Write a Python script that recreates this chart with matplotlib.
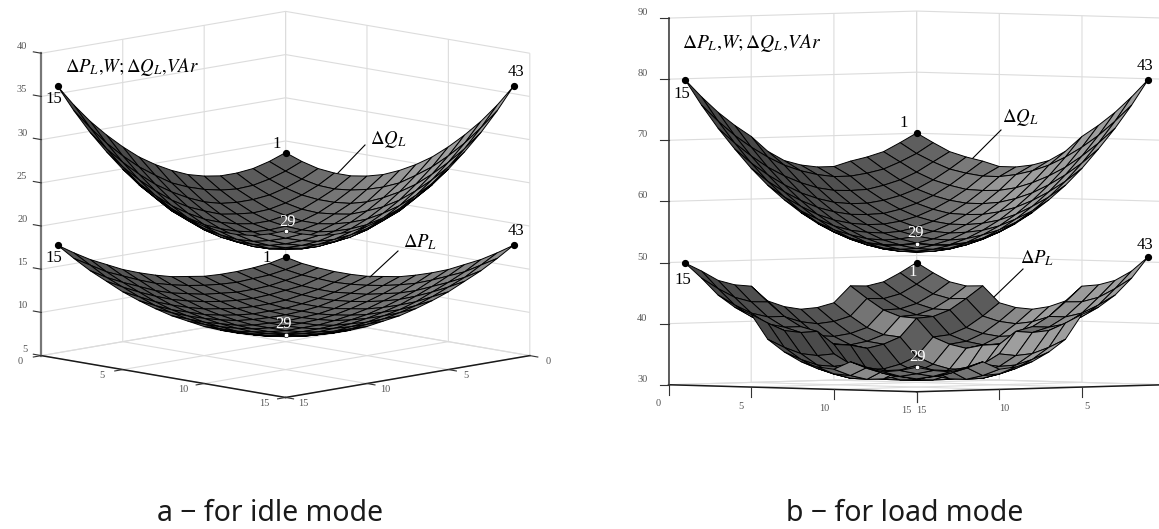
import numpy as np
import matplotlib
matplotlib.use('Agg')
import matplotlib.pyplot as plt
from mpl_toolkits.mplot3d import proj3d

plt.rcParams['font.family'] = ['Liberation Serif', 'DejaVu Serif']
plt.rcParams['mathtext.fontset'] = 'stix'

# node numbers 1..15 along each side of the grid
nodes = [1, 2, 3, 4, 5, 6, 7, 8, 9, 10, 11, 12, 13, 14, 15]
xy_ticks = [0, 5, 10, 15]
z_ticks_a = [5, 10, 15, 20, 25, 30, 35, 40]
z_ticks_b = [30, 40, 50, 60, 70, 80, 90]

# idle mode, heights (estimated where hidden)
q_idle = [
    [24.3, 23.6, 23.1, 22.9, 22.9, 23.2, 23.7, 24.5, 25.5, 26.7, 28.2, 29.9, 31.8, 34.0, 36.5],
    [23.6, 22.8, 22.2, 21.8, 21.7, 21.9, 22.3, 22.9, 23.7, 24.9, 26.2, 27.8, 29.6, 31.7, 34.0],
    [23.1, 22.2, 21.5, 21.0, 20.8, 20.8, 21.0, 21.5, 22.3, 23.3, 24.5, 26.0, 27.7, 29.6, 31.8],
    [22.9, 21.8, 21.0, 20.4, 20.0, 19.9, 20.1, 20.4, 21.1, 21.9, 23.0, 24.4, 26.0, 27.8, 29.9],
    [22.9, 21.7, 20.8, 20.0, 19.6, 19.3, 19.3, 19.6, 20.1, 20.8, 21.8, 23.0, 24.5, 26.2, 28.2],
    [23.2, 21.9, 20.8, 19.9, 19.3, 19.0, 18.9, 19.0, 19.4, 20.0, 20.8, 21.9, 23.3, 24.9, 26.7],
    [23.7, 22.3, 21.0, 20.1, 19.3, 18.9, 18.6, 18.6, 18.9, 19.4, 20.1, 21.1, 22.3, 23.7, 25.5],
    [24.5, 22.9, 21.5, 20.4, 19.6, 19.0, 18.6, 18.5, 18.6, 19.0, 19.6, 20.4, 21.5, 22.9, 24.5],
    [25.5, 23.7, 22.3, 21.1, 20.1, 19.4, 18.9, 18.6, 18.6, 18.9, 19.3, 20.1, 21.0, 22.3, 23.7],
    [26.7, 24.9, 23.3, 21.9, 20.8, 20.0, 19.4, 19.0, 18.9, 19.0, 19.3, 19.9, 20.8, 21.9, 23.2],
    [28.2, 26.2, 24.5, 23.0, 21.8, 20.8, 20.1, 19.6, 19.3, 19.3, 19.6, 20.0, 20.8, 21.7, 22.9],
    [29.9, 27.8, 26.0, 24.4, 23.0, 21.9, 21.1, 20.4, 20.1, 19.9, 20.0, 20.4, 21.0, 21.8, 22.9],
    [31.8, 29.6, 27.7, 26.0, 24.5, 23.3, 22.3, 21.5, 21.0, 20.8, 20.8, 21.0, 21.5, 22.2, 23.1],
    [34.0, 31.7, 29.6, 27.8, 26.2, 24.9, 23.7, 22.9, 22.3, 21.9, 21.7, 21.8, 22.2, 22.8, 23.6],
    [36.5, 34.0, 31.8, 29.9, 28.2, 26.7, 25.5, 24.5, 23.7, 23.2, 22.9, 22.9, 23.1, 23.6, 24.3],
]
p_idle = [
    [12.2, 11.8, 11.6, 11.5, 11.5, 11.6, 11.9, 12.2, 12.7, 13.3, 14.0, 14.9, 15.8, 16.9, 18.1],
    [11.8, 11.4, 11.1, 11.0, 10.9, 11.0, 11.2, 11.5, 11.9, 12.4, 13.1, 13.9, 14.7, 15.8, 16.9],
    [11.6, 11.1, 10.8, 10.5, 10.4, 10.4, 10.6, 10.8, 11.2, 11.6, 12.2, 13.0, 13.8, 14.7, 15.8],
    [11.5, 11.0, 10.5, 10.3, 10.1, 10.0, 10.1, 10.3, 10.6, 11.0, 11.5, 12.2, 13.0, 13.9, 14.9],
    [11.5, 10.9, 10.4, 10.1, 9.8, 9.7, 9.7, 9.8, 10.1, 10.4, 10.9, 11.5, 12.2, 13.1, 14.0],
    [11.6, 11.0, 10.4, 10.0, 9.7, 9.5, 9.5, 9.5, 9.7, 10.0, 10.4, 11.0, 11.6, 12.4, 13.3],
    [11.9, 11.2, 10.6, 10.1, 9.7, 9.5, 9.4, 9.4, 9.5, 9.7, 10.1, 10.6, 11.2, 11.9, 12.7],
    [12.2, 11.5, 10.8, 10.3, 9.8, 9.5, 9.4, 9.3, 9.4, 9.5, 9.8, 10.3, 10.8, 11.5, 12.2],
    [12.7, 11.9, 11.2, 10.6, 10.1, 9.7, 9.5, 9.4, 9.4, 9.5, 9.7, 10.1, 10.6, 11.2, 11.9],
    [13.3, 12.4, 11.6, 11.0, 10.4, 10.0, 9.7, 9.5, 9.5, 9.5, 9.7, 10.0, 10.4, 11.0, 11.6],
    [14.0, 13.1, 12.2, 11.5, 10.9, 10.4, 10.1, 9.8, 9.7, 9.7, 9.8, 10.1, 10.4, 10.9, 11.5],
    [14.9, 13.9, 13.0, 12.2, 11.5, 11.0, 10.6, 10.3, 10.1, 10.0, 10.1, 10.3, 10.5, 11.0, 11.5],
    [15.8, 14.7, 13.8, 13.0, 12.2, 11.6, 11.2, 10.8, 10.6, 10.4, 10.4, 10.5, 10.8, 11.1, 11.6],
    [16.9, 15.8, 14.7, 13.9, 13.1, 12.4, 11.9, 11.5, 11.2, 11.0, 10.9, 11.0, 11.1, 11.4, 11.8],
    [18.1, 16.9, 15.8, 14.9, 14.0, 13.3, 12.7, 12.2, 11.9, 11.6, 11.5, 11.5, 11.6, 11.8, 12.2],
]

# load mode
q_load = [
    [70.2, 68.7, 67.3, 66.5, 65.9, 65.1, 65.1, 65.5, 66.3, 67.9, 70.4, 72.3, 74.5, 77.1, 80.0],
    [68.7, 67.0, 65.7, 64.6, 64.0, 63.6, 63.6, 64.0, 64.7, 65.7, 67.1, 68.8, 70.8, 73.2, 75.9],
    [67.3, 65.7, 64.1, 62.9, 62.1, 61.5, 61.4, 61.5, 62.0, 62.9, 64.1, 65.6, 67.5, 69.7, 72.2],
    [66.5, 64.6, 62.9, 61.5, 60.5, 59.8, 59.4, 59.4, 59.7, 60.4, 61.4, 62.8, 64.5, 66.5, 68.9],
    [65.9, 64.0, 62.1, 60.5, 59.3, 58.4, 57.8, 57.7, 57.8, 58.3, 59.1, 60.3, 61.8, 63.6, 65.8],
    [65.1, 63.6, 61.5, 59.8, 58.4, 57.3, 56.6, 56.2, 56.2, 56.5, 57.1, 58.1, 59.5, 61.1, 63.1],
    [65.1, 63.6, 61.4, 59.4, 57.8, 56.6, 55.7, 55.1, 54.9, 55.1, 55.5, 56.3, 57.5, 58.9, 60.8],
    [65.5, 64.0, 61.5, 59.4, 57.7, 56.2, 55.1, 54.4, 54.0, 53.9, 54.2, 54.9, 55.8, 57.1, 58.8],
    [66.3, 64.7, 62.0, 59.7, 57.8, 56.2, 54.9, 54.0, 53.4, 53.2, 53.3, 53.7, 54.5, 55.6, 57.1],
    [67.9, 65.7, 62.9, 60.4, 58.3, 56.5, 55.1, 53.9, 53.2, 52.8, 52.7, 52.9, 53.5, 54.5, 55.8],
    [70.4, 67.1, 64.1, 61.4, 59.1, 57.1, 55.5, 54.2, 53.3, 52.7, 52.4, 52.5, 52.9, 53.7, 54.8],
    [72.3, 68.8, 65.6, 62.8, 60.3, 58.1, 56.3, 54.9, 53.7, 52.9, 52.5, 52.4, 52.6, 53.2, 54.1],
    [74.5, 70.8, 67.5, 64.5, 61.8, 59.5, 57.5, 55.8, 54.5, 53.5, 52.9, 52.6, 52.7, 53.1, 53.8],
    [77.1, 73.2, 69.7, 66.5, 63.6, 61.1, 58.9, 57.1, 55.6, 54.5, 53.7, 53.2, 53.1, 53.3, 53.9],
    [80.0, 75.9, 72.2, 68.9, 65.8, 63.1, 60.8, 58.8, 57.1, 55.8, 54.8, 54.1, 53.8, 53.9, 54.2],
]
p_load = [
    [49.0, 47.4, 46.0, 45.4, 45.5, 42.8, 42.1, 41.9, 42.4, 43.4, 45.9, 46.2, 47.0, 48.6, 50.0],
    [47.4, 45.6, 44.1, 43.4, 43.5, 40.7, 39.9, 39.6, 40.0, 40.9, 43.4, 43.5, 44.3, 45.8, 47.6],
    [46.0, 44.1, 42.6, 41.8, 41.7, 38.9, 38.0, 37.6, 37.8, 38.7, 41.1, 41.1, 41.8, 43.2, 44.9],
    [45.4, 43.4, 41.8, 40.9, 40.7, 37.8, 36.8, 36.3, 36.5, 37.2, 39.5, 39.5, 40.1, 41.4, 43.0],
    [45.5, 43.5, 41.7, 40.7, 40.5, 37.5, 36.4, 35.8, 36.4, 36.6, 38.8, 38.7, 39.1, 40.4, 41.9],
    [42.8, 40.7, 38.9, 37.8, 37.5, 34.4, 33.2, 32.5, 32.5, 33.1, 35.2, 35.0, 35.4, 36.5, 37.9],
    [42.1, 39.9, 38.0, 36.8, 36.4, 33.2, 32.0, 31.2, 31.1, 31.5, 33.6, 33.3, 33.6, 34.6, 35.9],
    [41.9, 39.6, 37.6, 36.3, 35.8, 32.5, 31.2, 31.0, 31.0, 31.1, 32.4, 32.5, 32.2, 33.2, 34.4],
    [42.4, 40.0, 37.8, 36.5, 36.4, 32.5, 31.1, 31.0, 31.0, 31.1, 32.0, 31.5, 31.6, 32.4, 33.6],
    [43.4, 40.9, 38.7, 37.2, 36.6, 33.1, 31.5, 31.1, 31.1, 31.2, 32.0, 31.5, 31.5, 32.2, 33.3],
    [45.9, 43.4, 41.1, 39.5, 38.8, 35.2, 33.6, 32.4, 32.0, 32.0, 33.7, 33.0, 33.0, 33.6, 34.6],
    [46.2, 43.5, 41.1, 39.5, 38.7, 35.0, 33.3, 32.5, 31.5, 31.5, 33.0, 32.3, 32.1, 32.7, 33.6],
    [47.0, 44.3, 41.8, 40.1, 39.1, 35.4, 33.6, 32.2, 31.6, 31.5, 33.0, 32.1, 31.8, 32.3, 33.1],
    [48.6, 45.8, 43.2, 41.4, 40.4, 36.5, 34.6, 33.2, 32.4, 32.2, 33.6, 32.7, 32.3, 32.8, 33.4],
    [51.0, 47.6, 44.9, 43.0, 41.9, 37.9, 35.9, 34.4, 33.6, 33.3, 34.6, 33.6, 33.1, 33.4, 34.0],
]

W, H = 1159, 529
fig = plt.figure(figsize=(W/100, H/100), dpi=100, facecolor='white')

# overlay in pixel coordinates for ticks and labels
ov = fig.add_axes([0, 0, 1, 1], zorder=10)
ov.set_xlim(0, W)
ov.set_ylim(H, 0)
ov.axis('off')


def cell_grays(Z):
    # brighter where a cell faces screen left, like the light in the original
    dzdx = (Z[:, 1:]-Z[:, :-1])[:-1, :]/2 + (Z[:, 1:]-Z[:, :-1])[1:, :]/2
    dzdy = (Z[1:, :]-Z[:-1, :])[:, :-1]/2 + (Z[1:, :]-Z[:-1, :])[:, 1:]/2
    t = (dzdy-dzdx)/np.sqrt(2)
    d = (dzdx+dzdy)/np.sqrt(2)
    g = 0.37 + np.where(t > 0, 0.12*t, 0.03*t) + 0.07*np.clip(d, 0, None)
    g = np.clip(g, 0.28, 0.62)
    return np.dstack([g, g, g, np.ones_like(g)])


def panel(left, top, size, elev, zlim, zticks, Zs, h, zcol, zlw):
    ax = fig.add_axes([left/W, 1-(top+size)/H, size/W, size/H], projection='3d',
                      proj_type='ortho', computed_zorder=False)
    ax.patch.set_alpha(0)
    ax.view_init(elev=elev, azim=45)
    ax.set_box_aspect((1, 1, h))
    ax.set_xlim(0, 15, view_margin=0)
    ax.set_ylim(0, 15, view_margin=0)
    ax.set_zlim(zlim[0], zlim[1], view_margin=0)
    ax.set_xticks(xy_ticks)
    ax.set_yticks(xy_ticks)
    ax.set_zticks(zticks)
    ax.set_xticklabels([])
    ax.set_yticklabels([])
    ax.set_zticklabels([])
    for axis in (ax.xaxis, ax.yaxis, ax.zaxis):
        axis.set_pane_color((1, 1, 1, 0))
        axis.pane.set_edgecolor((1, 1, 1, 0))
        axis.line.set_color('#1a1a1a')
        axis.line.set_linewidth(1.1)
        axis._axinfo['grid']['color'] = '#dcdcdc'
        axis._axinfo['grid']['linewidth'] = 0.8
        axis._axinfo['tick']['linewidth'] = {True: 0, False: 0}
    ax.zaxis.line.set_color(zcol)
    ax.zaxis.line.set_linewidth(zlw)
    X, Y = np.meshgrid(nodes, nodes)
    for i, Z in enumerate(Zs):
        Z = np.array(Z)
        ax.plot_surface(X, Y, Z, rstride=1, cstride=1, facecolors=cell_grays(Z), shade=False,
                        edgecolor='black', linewidth=0.7, zorder=2+i*2)
        # corners 1, 15, 43 in black, 29 in white
        ax.plot([X[0, 0], X[0, -1], X[-1, 0]], [Y[0, 0], Y[0, -1], Y[-1, 0]],
                [Z[0, 0], Z[0, -1], Z[-1, 0]], 'o', color='black', ms=4.2, zorder=20+i)
        ax.plot([X[-1, -1]], [Y[-1, -1]], [Z[-1, -1]], 'o', color='white', mec='black',
                mew=0.4, ms=3.2, zorder=20+i)
    ax.apply_aspect()
    return ax


def to_px(ax, x, y, z):
    x2, y2, _ = proj3d.proj_transform(x, y, z, ax.get_proj())
    px, py = ax.transData.transform((x2, y2))
    return px, H-py


def ticks(ax, zlim, zticks, ztick, zlab, ltick, llab, rtick, rlab, rvals):
    col = '#333333'
    lab = dict(fontsize=7.5, color='#555555')
    # z axis stands on the left corner x=15, y=0
    for v in zticks:
        px, py = to_px(ax, 15, 0, v)
        ov.plot([px, px+ztick[0]], [py, py+ztick[1]], color=col, lw=0.8)
        ov.text(px+zlab[0], py+zlab[1], str(v), ha='right', va='center', **lab)
    # left floor edge, y from 0 to 15 at x=15
    for v in xy_ticks:
        px, py = to_px(ax, 15, v, zlim[0])
        ov.plot([px, px+ltick[0]], [py, py+ltick[1]], color=col, lw=0.8)
        ov.text(px+llab[0], py+llab[1], str(v), ha='center', va='center', **lab)
    # right floor edge, x from 0 to 15 at y=15
    for v in xy_ticks:
        px, py = to_px(ax, v, 15, zlim[0])
        ov.plot([px, px+rtick[0]], [py, py+rtick[1]], color=col, lw=0.8)
        if v in rvals:
            ov.text(px+rlab[0], py+rlab[1], str(v), ha='center', va='center', **lab)


ax_a = panel(-2, -68, 560, 9.87, (5, 40), z_ticks_a, [p_idle, q_idle], 0.8886, '#777777', 1.6)
ax_b = panel(609, -90, 599, 1.62, (30, 90), z_ticks_b, [p_load, q_load], 1.0455, '#444444', 1.2)

ticks(ax_a, (5, 40), z_ticks_a, (-8, -1.4), (-14, -6.5), (-8, 1.4), (-21, 6), (8, 1.4), (18, 6), xy_ticks)
ticks(ax_b, (30, 90), z_ticks_b, (-9, 0), (-21, -5.5), (0, 10), (-10, 19), (0, 10), (5, 19), [5, 10, 15])

title = r'$\Delta P_L{,}W{;}\Delta Q_L{,}VAr$'
ov.text(65, 67, title, fontsize=13.5, va='center', ha='left')
ov.text(682, 43, title, fontsize=14, va='center', ha='left')
dq = r'$\Delta Q_L$'
dp = r'$\Delta P_L$'

labels_black = [(54, 99, '15'), (516, 72, '43'), (277, 144, '1'), (54, 258, '15'), (516, 231, '43'),
                (267, 258, '1'), (682, 94, '15'), (1145, 66, '43'), (904, 123, '1'),
                (683, 280, '15'), (1145, 245, '43')]
for x, y, s in labels_black:
    ov.text(x, y, s, fontsize=12, ha='center', va='center')
labels_white = [(287, 222, '29'), (284, 324, '29'), (916, 233, '29'), (913, 272, '1'), (917, 357, '29')]
for x, y, s in labels_white:
    ov.text(x, y, s, fontsize=12, ha='center', va='center', color='white')

ov.text(370, 140, dq, fontsize=13.5, va='center')
ov.text(403, 242, dp, fontsize=13.5, va='center')
ov.text(1002, 118, dq, fontsize=13.5, va='center')
ov.text(1020, 258, dp, fontsize=13.5, va='center')
for (x0, y0, x1, y1) in [(365, 145, 338, 173), (398, 251, 370, 277), (1001, 130, 973, 158), (1023, 269, 994, 297)]:
    ov.plot([x0, x1], [y0, y1], color='black', lw=0.8)

ov.text(157, 521, 'a \u2212 for idle mode', fontsize=20.5, family='Noto Sans', ha='left', va='baseline', color='#1a1a1a')
ov.text(786, 521, 'b \u2212 for load mode', fontsize=20.5, family='Noto Sans', ha='left', va='baseline', color='#1a1a1a')

fig.savefig('out.png', dpi=100)
